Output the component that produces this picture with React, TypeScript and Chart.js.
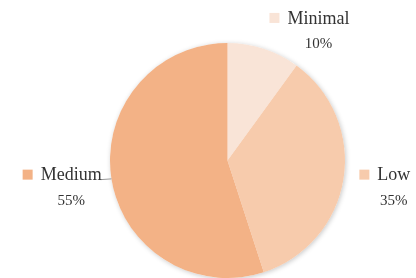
import React, { useEffect, useRef } from "react";
import { Chart, registerables } from "chart.js";

Chart.register(...registerables);

const categories = ["Minimal", "Low", "Medium"];
const values = [10, 35, 55];
const colors = ["#F9E4D7", "#F7CBAC", "#F3B286"];

const labelPlugin = {
  id: "pieLabels",
  beforeDatasetsDraw(chart: any) {
    const meta = chart.getDatasetMeta(0);
    const arc = meta.data[0];
    if (!arc) return;
    const { x, y, outerRadius } = arc.getProps(["x", "y", "outerRadius"], true);
    const ctx = chart.ctx;
    ctx.save();
    ctx.shadowColor = "rgba(0,0,0,0.22)";
    ctx.shadowBlur = 5;
    ctx.shadowOffsetX = 1;
    ctx.shadowOffsetY = 1;
    ctx.fillStyle = "#ffffff";
    ctx.beginPath();
    ctx.arc(x, y, outerRadius, 0, Math.PI * 2);
    ctx.fill();
    ctx.restore();
  },
  afterDatasetsDraw(chart: any) {
    const ctx = chart.ctx;
    const meta = chart.getDatasetMeta(0);
    const total = values.reduce((a, b) => a + b, 0);
    meta.data.forEach((el: any, i: number) => {
      const p = el.getProps(["x", "y", "startAngle", "endAngle", "outerRadius"], true);
      const mid = (p.startAngle + p.endAngle) / 2;
      const c = Math.cos(mid);
      const s = Math.sin(mid);
      const r = p.outerRadius;
      const rowY = p.y + (r + 24) * s - 8;
      const ax = p.x + (r + 15) * c;
      const name = categories[i];
      const pct = Math.round((values[i] / total) * 100) + "%";
      ctx.save();
      ctx.font = "18px 'Liberation Serif'";
      ctx.textBaseline = "middle";
      ctx.fillStyle = "#333333";
      const w = ctx.measureText(name).width;
      const sq = 10;
      const gap = 8;
      let textLeft: number;
      let sqLeft: number;
      if (c >= 0) {
        sqLeft = ax + 1;
        textLeft = sqLeft + sq + gap;
      } else {
        textLeft = ax + 5 - w;
        sqLeft = textLeft - gap - sq;
        const ex = p.x + r * c;
        const ey = p.y + r * s;
        ctx.strokeStyle = "#999999";
        ctx.lineWidth = 1;
        ctx.beginPath();
        ctx.moveTo(textLeft + w - 1, rowY + 5);
        ctx.lineTo(ex, ey);
        ctx.stroke();
      }
      ctx.fillStyle = colors[i];
      ctx.fillRect(sqLeft, rowY - sq / 2, sq, sq);
      ctx.fillStyle = "#333333";
      ctx.textAlign = "left";
      ctx.fillText(name, textLeft, rowY + 1);
      ctx.font = "15px 'Liberation Serif'";
      ctx.textAlign = "center";
      ctx.fillText(pct, textLeft + w / 2, rowY + 26);
      ctx.restore();
    });
  },
};

export default function App() {
  const ref = useRef<HTMLCanvasElement | null>(null);
  useEffect(() => {
    if (!ref.current) return;
    const chart = new Chart(ref.current, {
      type: "pie",
      data: {
        labels: categories,
        datasets: [
          {
            data: values,
            backgroundColor: colors,
            borderWidth: 0,
            hoverOffset: 0,
          },
        ],
      },
      options: {
        responsive: false,
        animation: false,
        layout: { padding: { left: 110, right: 71, top: 43, bottom: 0 } },
        plugins: {
          legend: { display: false },
          tooltip: { enabled: false },
        },
      },
      plugins: [labelPlugin],
    });
    return () => chart.destroy();
  }, []);
  return (
    <div style={{ position: "absolute", left: 0, top: 0, width: 416, height: 278, background: "#fff" }}>
      <canvas ref={ref} width={416} height={278} />
    </div>
  );
}
